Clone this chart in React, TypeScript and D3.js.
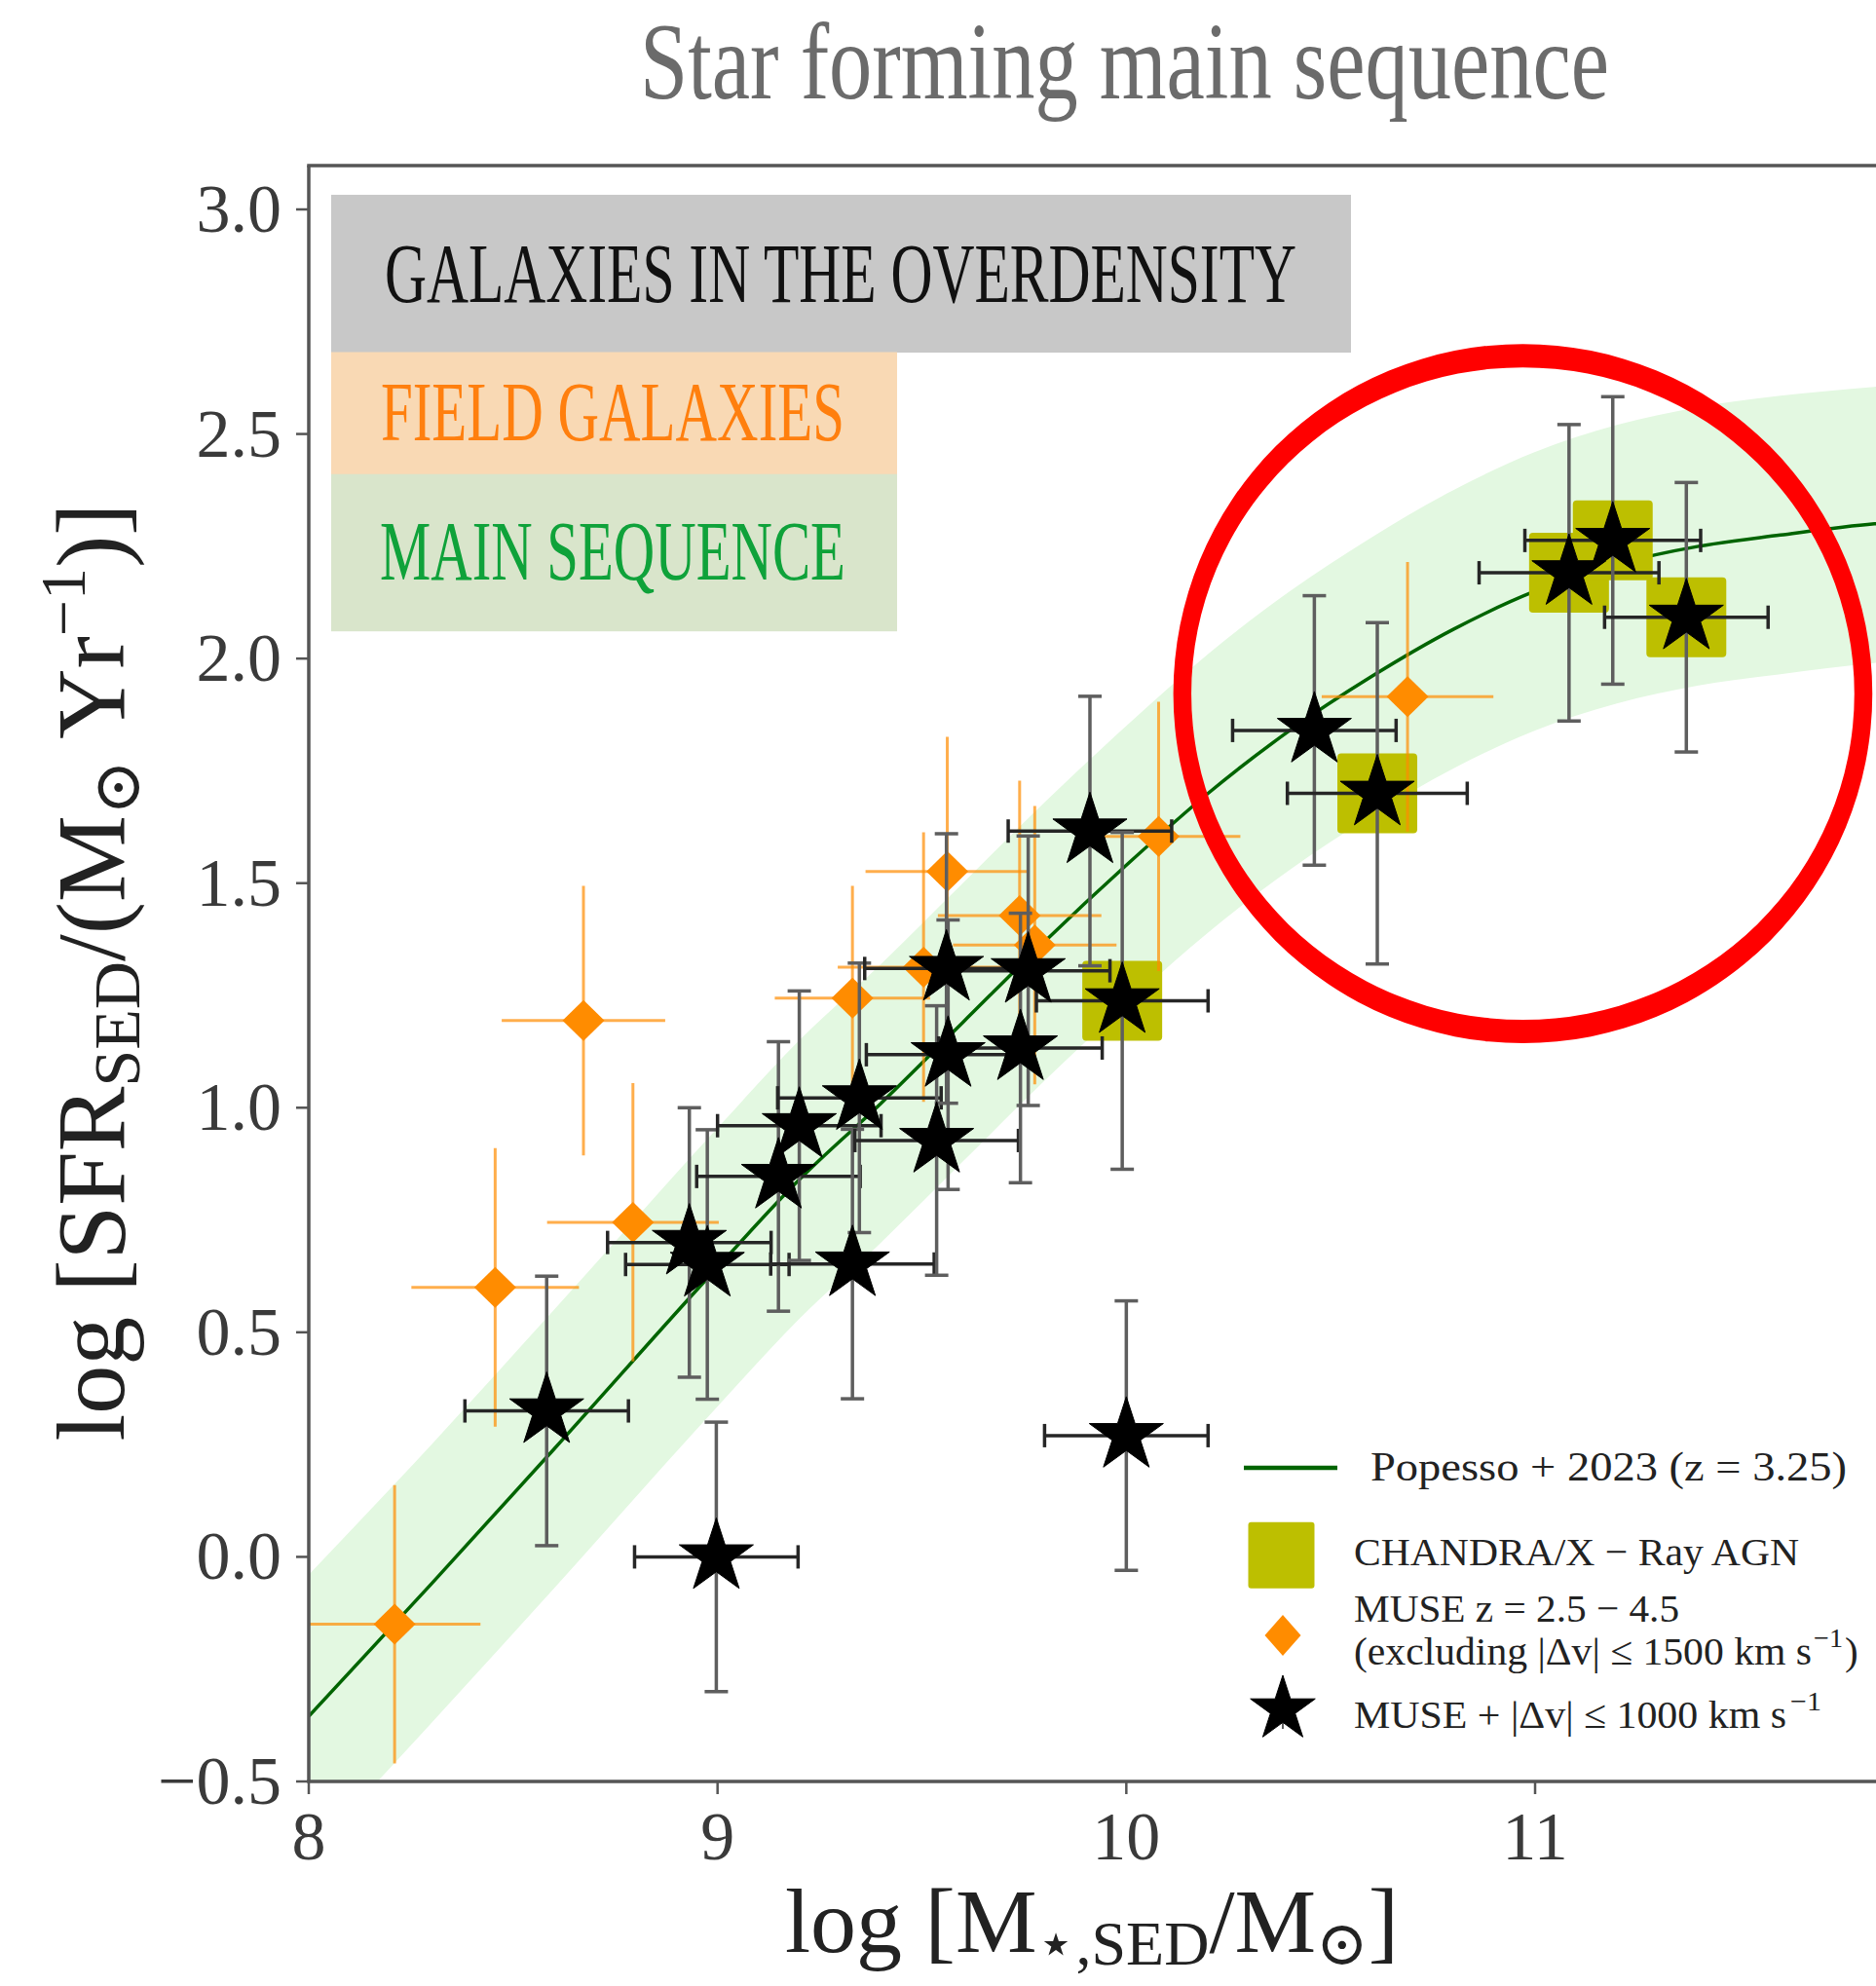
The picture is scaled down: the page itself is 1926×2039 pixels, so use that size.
import React from 'react';
import * as d3 from 'd3';

// ---------------- DATA ----------------
const xTicks = [8, 9, 10, 11];
const yTicks = [-0.5, 0, 0.5, 1, 1.5, 2, 2.5, 3];

// Popesso+2023 main sequence
const msMass = [8.0, 8.3, 8.6, 9.0, 9.2, 9.4, 9.6, 9.8, 10.0, 10.2, 10.4, 10.6, 10.8, 11.0, 11.2, 11.4, 11.6, 11.83, 12.0];
const msSFR = [-0.355, -0.06, 0.24, 0.645, 0.84, 1.01, 1.19, 1.37, 1.54, 1.70, 1.84, 1.96, 2.065, 2.15, 2.21, 2.25, 2.275, 2.30, 2.31];
const msUpper = [-0.04, 0.25, 0.55, 0.955, 1.15, 1.32, 1.50, 1.68, 1.85, 2.01, 2.15, 2.27, 2.375, 2.46, 2.52, 2.56, 2.585, 2.605, 2.615];
const msLower = [-0.665, -0.37, -0.07, 0.335, 0.53, 0.70, 0.88, 1.06, 1.23, 1.39, 1.53, 1.65, 1.755, 1.84, 1.90, 1.94, 1.965, 1.99, 2.0];

// MUSE z = 2.5-4.5 field galaxies (orange diamonds)
const fieldMass = [8.21, 8.456, 8.672, 8.793, 9.33, 9.562, 9.504, 9.739, 9.776, 10.079, 10.688];
const fieldSFR = [-0.15, 0.60, 1.194, 0.745, 1.244, 1.526, 1.313, 1.428, 1.362, 1.604, 1.915];
const fieldMassErr = [0.21, 0.205, 0.2, 0.21, 0.19, 0.2, 0.21, 0.2, 0.2, 0.2, 0.21];
const fieldSFRErr = [0.31, 0.31, 0.3, 0.31, 0.25, 0.3, 0.3, 0.3, 0.31, 0.3, 0.3];

// MUSE + |dv| <= 1000 km/s overdensity galaxies (black stars)
const odMass = [8.582, 8.997, 10.0, 8.931, 8.975, 9.149, 9.20, 9.347, 9.33, 9.536, 9.564, 9.56, 9.76, 9.741, 9.911, 9.99, 10.46, 10.614, 11.083, 11.19, 11.37];
const odSFR = [0.325, 0.0, 0.27, 0.70, 0.651, 0.847, 0.96, 1.022, 0.652, 0.927, 1.118, 1.31, 1.305, 1.133, 1.616, 1.238, 1.84, 1.70, 2.191, 2.263, 2.092];
const odMassErr = [0.2, 0.2, 0.2, 0.2, 0.2, 0.2, 0.2, 0.2, 0.2, 0.2, 0.2, 0.2, 0.2, 0.2, 0.2, 0.21, 0.2, 0.22, 0.22, 0.215, 0.2];
const odSFRErr = [0.3, 0.3, 0.3, 0.3, 0.3, 0.3, 0.3, 0.3, 0.3, 0.3, 0.3, 0.3, 0.3, 0.3, 0.3, 0.375, 0.3, 0.38, 0.33, 0.32, 0.3];

// CHANDRA X-ray AGN
const agnMass = [9.99, 10.614, 11.083, 11.19, 11.37];
const agnSFR = [1.238, 1.70, 2.191, 2.263, 2.092];

// Highlight ellipse (data units): centre, outer radii, inner radii
const ringCenter = [10.97, 1.922];
const ringOuter = [0.855, 0.778];
const ringInner = [0.811, 0.726];

const categoryLabels = ['GALAXIES IN THE OVERDENSITY', 'FIELD GALAXIES', 'MAIN SEQUENCE'];
const legendLabels = ['Popesso + 2023 (z = 3.25)', 'CHANDRA/X \u2212 Ray AGN', 'MUSE z = 2.5 \u2212 4.5', '(excluding |\u0394v| \u2264 1500 km s', 'MUSE + |\u0394v| \u2264 1000 km s'];

// ---------------- LAYOUT ----------------
const W = 1926;
const H = 2039;
const LEFT = 317;
const TOP = 170;
const BOTTOM = 1829;
const RIGHT = 2000;

const x = d3.scaleLinear().domain([8, 12]).range([LEFT, LEFT + 4 * 419.67]);
const y = d3.scaleLinear().domain([-0.5, 3]).range([1829, 215]);

const SERIF = "'Liberation Serif', 'DejaVu Serif', serif";

const starPath = (R: number) => d3.symbol(d3.symbolStar, (R * R) / 0.8908130915292852)()!;
const diamondPath = (w: number, h: number) => `M0,${-h / 2}L${w / 2},0L0,${h / 2}L${-w / 2},0Z`;

function ErrorBars({ mx, my, ex, ey, vColor, hColor, width, cap, opacity }: any) {
  const els: any[] = [];
  mx.forEach((m: number, i: number) => {
    const cx = x(m), cy = y(my[i]);
    const x0 = x(m - ex[i]), x1 = x(m + ex[i]);
    const y0 = y(my[i] - ey[i]), y1 = y(my[i] + ey[i]);
    els.push(<line key={`v${i}`} x1={cx} x2={cx} y1={y0} y2={y1} stroke={vColor} strokeWidth={width} strokeOpacity={opacity} />);
    els.push(<line key={`h${i}`} x1={x0} x2={x1} y1={cy} y2={cy} stroke={hColor} strokeWidth={width} strokeOpacity={opacity} />);
    if (cap > 0) {
      els.push(<line key={`c1${i}`} x1={cx - cap} x2={cx + cap} y1={y0} y2={y0} stroke={vColor} strokeWidth={width} />);
      els.push(<line key={`c2${i}`} x1={cx - cap} x2={cx + cap} y1={y1} y2={y1} stroke={vColor} strokeWidth={width} />);
      els.push(<line key={`c3${i}`} x1={x0} x2={x0} y1={cy - cap} y2={cy + cap} stroke={hColor} strokeWidth={width} />);
      els.push(<line key={`c4${i}`} x1={x1} x2={x1} y1={cy - cap} y2={cy + cap} stroke={hColor} strokeWidth={width} />);
    }
  });
  return <g>{els}</g>;
}

export default function App() {
  const msLine = d3.line<number>().x((d) => x(d)).y((_, i) => y(msSFR[i])).curve(d3.curveMonotoneX)(msMass)!;
  const band = d3
    .area<number>()
    .x((d) => x(d))
    .y0((_, i) => y(msLower[i]))
    .y1((_, i) => y(msUpper[i]))
    .curve(d3.curveMonotoneX)(msMass)!;

  const ellipse = (cx: number, cy: number, rx: number, ry: number) =>
    `M${cx - rx},${cy}A${rx},${ry} 0 1 0 ${cx + rx},${cy}A${rx},${ry} 0 1 0 ${cx - rx},${cy}Z`;
  const rcx = x(ringCenter[0]), rcy = y(ringCenter[1]);
  const pxX = (d: number) => x(8 + d) - x(8);
  const pxY = (d: number) => y(0) - y(d);
  const ringPath =
    ellipse(rcx, rcy, pxX(ringOuter[0]), pxY(ringOuter[1])) + ellipse(rcx, rcy, pxX(ringInner[0]), pxY(ringInner[1]));

  const star = starPath(40);
  const diamond = diamondPath(43, 42);

  return (
    <svg width={W} height={H} style={{ position: 'absolute', left: 0, top: 0, display: 'block' }} xmlns="http://www.w3.org/2000/svg">
      <rect x={0} y={0} width={W} height={H} fill="#ffffff" />
      <defs>
        <clipPath id="plotclip">
          <rect x={LEFT} y={TOP} width={RIGHT - LEFT} height={BOTTOM - TOP} />
        </clipPath>
      </defs>

      {/* title */}
      <text x={657} y={101} fontFamily={SERIF} fontSize={112} fill="#6b6b6b" textLength={995} lengthAdjust="spacingAndGlyphs">
        Star forming main sequence
      </text>

      <g clipPath="url(#plotclip)">
        <path d={band} fill="#e3f8e1" />
        <path d={msLine} fill="none" stroke="#006400" strokeWidth={3.5} />
        {agnMass.map((m, i) => (
          <rect key={i} x={x(m) - 41} y={y(agnSFR[i]) - 41} width={82} height={82} rx={4} fill="#bdbf00" />
        ))}
        <ErrorBars mx={fieldMass} my={fieldSFR} ex={fieldMassErr} ey={fieldSFRErr} vColor="#ff8c00" hColor="#ff8c00" width={3} cap={0} opacity={0.7} />
        {fieldMass.map((m, i) => (
          <path key={i} d={diamond} transform={`translate(${x(m)},${y(fieldSFR[i])})`} fill="#ff8c00" />
        ))}
        <ErrorBars mx={odMass} my={odSFR} ex={odMassErr} ey={odSFRErr} vColor="#5e5e5e" hColor="#262626" width={3.5} cap={12} opacity={1} />
        {odMass.map((m, i) => (
          <path key={i} d={star} transform={`translate(${x(m)},${y(odSFR[i])})`} fill="#000" stroke="#000" strokeWidth={1} />
        ))}
      </g>

      {/* frame */}
      <line x1={LEFT} x2={LEFT} y1={TOP} y2={BOTTOM} stroke="#555" strokeWidth={3.5} />
      <line x1={LEFT - 1.75} x2={W + 5} y1={TOP} y2={TOP} stroke="#555" strokeWidth={3.5} />
      <line x1={LEFT - 1.75} x2={W + 5} y1={BOTTOM} y2={BOTTOM} stroke="#555" strokeWidth={3.5} />

      {/* y ticks */}
      {yTicks.map((t) => (
        <g key={t}>
          <line x1={LEFT - 13} x2={LEFT} y1={y(t)} y2={y(t)} stroke="#555" strokeWidth={2.5} />
          <text x={289} y={y(t) + 23} textAnchor="end" fontFamily={SERIF} fontSize={70} fill="#3a3a3a">
            {t < 0 ? '\u2212' + Math.abs(t).toFixed(1) : t.toFixed(1)}
          </text>
        </g>
      ))}
      {/* x ticks */}
      {xTicks.map((t) => (
        <g key={t}>
          <line x1={x(t)} x2={x(t)} y1={BOTTOM} y2={BOTTOM + 13} stroke="#555" strokeWidth={2.5} />
          <text x={x(t)} y={1909} textAnchor="middle" fontFamily={SERIF} fontSize={70} fill="#3a3a3a">
            {t}
          </text>
        </g>
      ))}

      {/* axis labels */}
      <text x={1121} y={2004} textAnchor="middle" fontFamily={SERIF} fontSize={94} fill="#222">
        log [M<tspan fontSize={64} dy={13}>{'\u22C6,SED'}</tspan>
        <tspan dy={-13}>/M</tspan>
        <tspan fontSize={64} dy={13}>{'\u2299'}</tspan>
        <tspan dy={-13}>]</tspan>
      </text>
      <text transform="translate(127,998) rotate(-90)" textAnchor="middle" fontFamily={SERIF} fontSize={100} fill="#222">
        log [SFR<tspan fontSize={68} dy={16}>SED</tspan>
        <tspan dy={-16}>/(M</tspan>
        <tspan fontSize={68} dy={16}>{'\u2299'}</tspan>
        <tspan dy={-16}> Yr</tspan>
        <tspan fontSize={66} dy={-40}>{'\u22121'}</tspan>
        <tspan dy={40}>)]</tspan>
      </text>

      {/* category boxes */}
      <rect x={340} y={200} width={1047} height={162} fill="#c8c8c8" />
      <rect x={340} y={361.5} width={581} height={125.5} fill="#f9d9b4" />
      <rect x={340} y={486.7} width={581} height={161.5} fill="#d9e5cb" />
      <text x={395} y={310} fontFamily={SERIF} fontSize={86} fill="#111" textLength={936} lengthAdjust="spacingAndGlyphs">
        {categoryLabels[0]}
      </text>
      <text x={391} y={451.5} fontFamily={SERIF} fontSize={86} fill="#ff7f0e" textLength={476} lengthAdjust="spacingAndGlyphs">
        {categoryLabels[1]}
      </text>
      <text x={390} y={595} fontFamily={SERIF} fontSize={86} fill="#0fa23a" textLength={478} lengthAdjust="spacingAndGlyphs">
        {categoryLabels[2]}
      </text>

      {/* highlight ring */}
      <path d={ringPath} fill="#ff0000" fillRule="evenodd" />

      {/* legend */}
      <line x1={1277} x2={1373} y1={1507} y2={1507} stroke="#006400" strokeWidth={4.5} />
      <text x={1407} y={1520} fontFamily={SERIF} fontSize={43} fill="#222" textLength={489} lengthAdjust="spacingAndGlyphs">
        {legendLabels[0]}
      </text>
      <rect x={1281.5} y={1562.7} width={68} height={68} rx={3} fill="#bdbf00" />
      <text x={1390} y={1607} fontFamily={SERIF} fontSize={41} fill="#222" textLength={457} lengthAdjust="spacingAndGlyphs">
        {legendLabels[1]}
      </text>
      <path d={diamondPath(37, 42)} transform="translate(1317,1679)" fill="#ff8c00" />
      <text x={1390} y={1665} fontFamily={SERIF} fontSize={41} fill="#222" textLength={334} lengthAdjust="spacingAndGlyphs">
        {legendLabels[2]}
      </text>
      <text x={1390} y={1709} fontFamily={SERIF} fontSize={41} fill="#222" textLength={470} lengthAdjust="spacingAndGlyphs">
        {legendLabels[3]}
      </text>
      <text x={1862} y={1691} fontFamily={SERIF} fontSize={28} fill="#222" textLength={30} lengthAdjust="spacingAndGlyphs">
        {'\u22121'}
      </text>
      <text x={1894} y={1709} fontFamily={SERIF} fontSize={41} fill="#222">
        )
      </text>
      <line x1={1317} x2={1317} y1={1735} y2={1775} stroke="#5e5e5e" strokeWidth={2} />
      <line x1={1302} x2={1332} y1={1757} y2={1757} stroke="#262626" strokeWidth={2} />
      <path d={starPath(35)} transform="translate(1317,1755)" fill="#000" stroke="#000" strokeWidth={1} />
      <text x={1390} y={1774} fontFamily={SERIF} fontSize={41} fill="#222" textLength={444} lengthAdjust="spacingAndGlyphs">
        {legendLabels[4]}
      </text>
      <text x={1838} y={1756} fontFamily={SERIF} fontSize={28} fill="#222" textLength={32} lengthAdjust="spacingAndGlyphs">
        {'\u22121'}
      </text>
    </svg>
  );
}
